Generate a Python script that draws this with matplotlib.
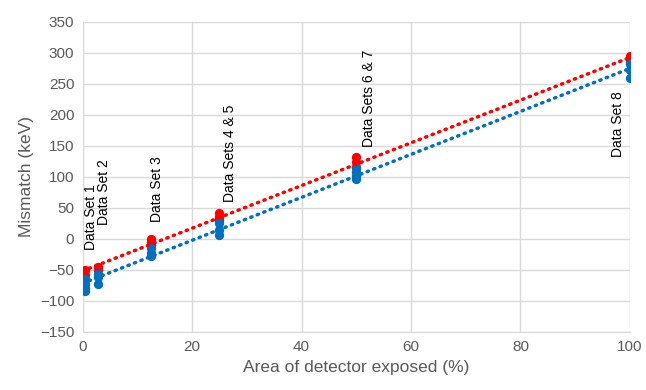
import matplotlib
matplotlib.use("Agg")
import matplotlib.pyplot as plt
import numpy as np

plt.rcParams["font.family"] = ["Liberation Sans", "DejaVu Sans"]

# ===========================
# DATA
# ===========================
red_x = [0.4, 0.4, 2.8, 2.8, 12.5, 12.5, 12.5, 25, 25, 25, 50, 50, 50, 100, 100, 100]
red_y = [-50, -58, -45, -50, 0, -5, -10, 42, 36, 30, 132, 124, 116, 295, 290, 285]

blue_x = [0.4, 0.4, 0.4, 0.4, 2.8, 2.8, 2.8, 12.5, 12.5, 12.5, 25, 25, 25,
          50, 50, 50, 50, 100, 100, 100]
blue_y = [-65, -72, -80, -84, -57, -62, -73, -15, -22, -28, 25, 15, 6,
          115, 108, 102, 97, 282, 272, 260]

labels = ["Data Set 1", "Data Set 2", "Data Set 3", "Data Sets 4 & 5",
          "Data Sets 6 & 7", "Data Set 8"]
label_x = [1.5, 3.9, 13.6, 27.0, 52.3, 97.8]
label_y = [-18, 22, 28, 60, 148, 132]

# ===========================
# PLOT
# ===========================
fig = plt.figure(figsize=(6.46, 3.9), dpi=100)
ax = fig.add_axes([0.128, 0.149, 0.847, 0.795])

gray = "#595959"
red = "#FF0000"
blue = "#0070C0"

xfit = np.array([0, 100])
for xs, ys, c in [(red_x, red_y, red), (blue_x, blue_y, blue)]:
    ax.scatter(xs, ys, s=45, color=c, zorder=3, linewidths=0)
    m, b = np.polyfit(xs, ys, 1)
    ax.plot(xfit, m * xfit + b, color=c, lw=2.5, ls=(0, (0.4, 1.6)),
            dash_capstyle="round", zorder=4)

for t, x, y in zip(labels, label_x, label_y):
    ax.text(x, y, t, rotation=90, ha="center", va="bottom", fontsize=10,
            color="black", zorder=5)

ax.set_xlim(0, 100)
ax.set_ylim(-150, 350)
ax.set_xticks([0, 20, 40, 60, 80, 100])
ax.set_yticks(np.arange(-150, 351, 50))
ax.grid(color="#D9D9D9", lw=1)
ax.set_axisbelow(True)
for s in ["top", "right"]:
    ax.spines[s].set_visible(False)
for s in ["left", "bottom"]:
    ax.spines[s].set_color("#D9D9D9")
ax.tick_params(length=0, labelsize=11, colors=gray, pad=6)
ax.set_xlabel("Area of detector exposed (%)", fontsize=12.5, color=gray)
ax.set_ylabel("Mismatch (keV)", fontsize=12.5, color=gray)

plt.savefig("out.png", dpi=100)
